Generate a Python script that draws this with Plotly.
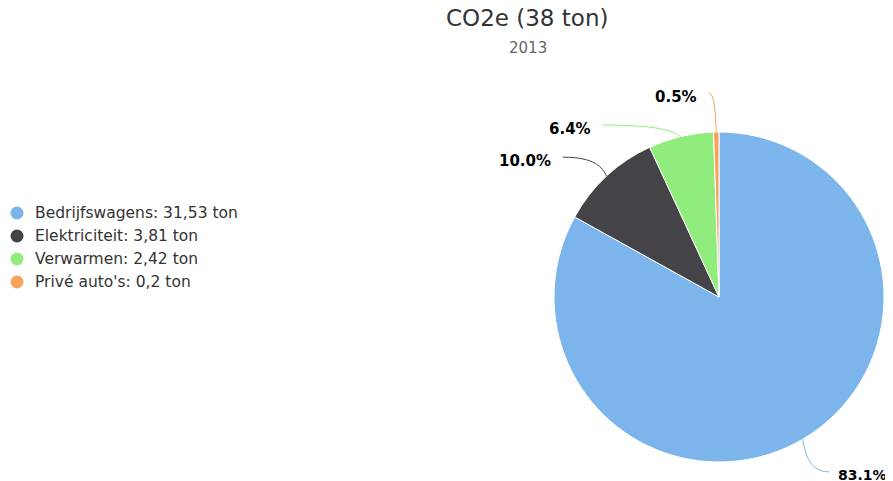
import math
import plotly.graph_objects as go

categories = ["Bedrijfswagens", "Elektriciteit", "Verwarmen", "Privé auto's"]
values = [31.53, 3.81, 2.42, 0.2]
colors = ["#7cb5ec", "#434348", "#90ed7d", "#f7a35c"]
title_text = "CO2e (38 ton)"
subtitle_text = "2013"

W, H = 893, 481
OFF = 8  # page body margin in the browser
CX, CY, R = 719, 297, 165
# label connector offsets (pixels) from slice edge point, label side, label gap, font size
label_offsets = [(26.5, 32.7, 1, 7, 14), (-44, -19, -1, 10, 15),
                 (-78, -11.4, -1, 10, 15), (-7.4, -39, -1, 10, 15)]
LEG_X, LEG_Y0, LEG_DY, LEG_R = 17, 213, 23, 6.5

def px(x):
    return (x - OFF) / W

def py(y):
    return 1 - (y - OFF) / H

fig = go.Figure()
fig.add_trace(go.Pie(
    labels=categories, values=values, sort=False, direction="clockwise",
    rotation=0, marker=dict(colors=colors, line=dict(color="white", width=1)),
    textinfo="none", hoverinfo="label+value+percent", showlegend=False,
    domain=dict(x=[px(CX - R), px(CX + R)], y=[py(CY + R), py(CY - R)]),
))

def fmt(v):
    s = ("%.2f" % v).rstrip("0").rstrip(".")
    return s.replace(".", ",")

total = sum(values)
shapes = []
annotations = []

# legend (drawn manually)
for i, (c, v, col) in enumerate(zip(categories, values, colors)):
    yy = LEG_Y0 + i * LEG_DY
    shapes.append(dict(type="circle", xref="paper", yref="paper",
                       x0=px(LEG_X - LEG_R), x1=px(LEG_X + LEG_R),
                       y0=py(yy + LEG_R), y1=py(yy - LEG_R),
                       fillcolor=col, line=dict(width=0)))
    annotations.append(dict(x=px(LEG_X + 16), y=py(yy), xref="paper", yref="paper",
                            text=f"{c}: {fmt(v)} ton", showarrow=False,
                            xanchor="left", yanchor="middle",
                            font=dict(family="DejaVu Sans", size=15.5, color="#333333")))

cum = 0
for v, col, (dx, dy, side, gap, fs) in zip(values, colors, label_offsets):
    mid = (cum + v / 2) / total * 2 * math.pi
    cum += v
    ex = CX + R * math.sin(mid)
    ey = CY - R * math.cos(mid)
    lx, ly = ex + dx, ey + dy
    c1x = lx + (ex - lx) * 0.75
    c1y = ly
    c2x = ex + (lx - ex) * 0.1
    c2y = ey + (ly - ey) * 0.45
    path = (f"M {px(lx):.5f},{py(ly):.5f} C {px(c1x):.5f},{py(c1y):.5f} "
            f"{px(c2x):.5f},{py(c2y):.5f} {px(ex):.5f},{py(ey):.5f}")
    shapes.append(dict(type="path", path=path, xref="paper", yref="paper",
                       line=dict(color=col, width=1)))
    pct = v / total * 100
    annotations.append(dict(
        x=px(lx + side * gap), y=py(ly + 3.5), xref="paper", yref="paper",
        text=f"<b>{pct:.1f}%</b>", showarrow=False,
        xanchor="left" if side > 0 else "right", yanchor="middle",
        font=dict(family="DejaVu Sans", size=fs, color="#000000")))

annotations.append(dict(x=px(527), y=py(18), xref="paper", yref="paper",
                        text=title_text, showarrow=False, xanchor="center", yanchor="middle",
                        font=dict(family="DejaVu Sans", size=23, color="#333333")))
annotations.append(dict(x=px(528), y=py(48), xref="paper", yref="paper",
                        text=subtitle_text, showarrow=False, xanchor="center", yanchor="middle",
                        font=dict(family="DejaVu Sans", size=15, color="#666666")))

fig.update_layout(
    width=W, height=H, margin=dict(l=0, r=0, t=0, b=0),
    paper_bgcolor="white", plot_bgcolor="white",
    showlegend=False,
    shapes=shapes, annotations=annotations,
    font=dict(family="DejaVu Sans"),
)
fig.write_html("out.html")
